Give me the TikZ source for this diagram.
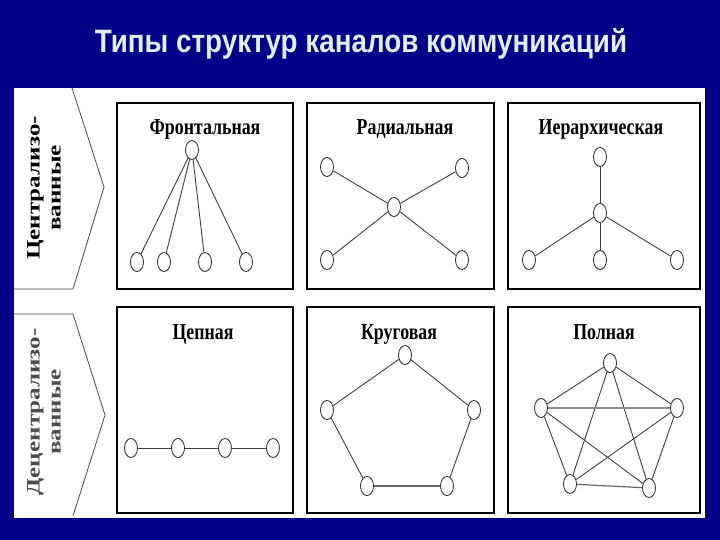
\documentclass[tikz,border=0pt]{standalone}
\usepackage{fontspec}
\setmainfont{Liberation Serif}
\newfontfamily\titlefont{Liberation Sans}
\usetikzlibrary{shapes.geometric}
\definecolor{bgblue}{HTML}{000088}
\definecolor{titlecol}{HTML}{E2EEFF}
\begin{document}
\begin{tikzpicture}[x=1pt,y=-1pt,
  nd/.style={draw=black!85, ellipse, minimum width=13pt, minimum height=19pt, inner sep=0pt, line width=0.8pt, fill=white},
  ed/.style={draw=black!75, line width=0.9pt},
  panel/.style={draw=black, line width=1.3pt},
  ptitle/.style={font=\bfseries\fontsize{17.5}{17.5}\selectfont, inner sep=0pt, anchor=base},
  vtext/.style={font=\bfseries\fontsize{19}{21}\selectfont, rotate=90, align=center, inner sep=0pt},
  chev/.style={draw=black!70, line width=0.8pt}
]
\useasboundingbox (0,0) rectangle (720,540);
\fill[bgblue] (0,0) rectangle (720,540);
\fill[white] (14,88) rectangle (705,518);
\node[font=\titlefont\bfseries\fontsize{27}{27}\selectfont, text=titlecol, inner sep=0pt] (title) at (361,44) {\scalebox{1.03}[1.2]{Типы структур каналов коммуникаций}};

% chevrons
\draw[chev] (72,88) -- (104,187) -- (73,289) -- (14,289);
\draw[chev] (14,314) -- (73,314) -- (105,415) -- (73,516);
\node[vtext] (cent) at (44,188) {\scalebox{1.32}[1]{Централизо-}\\\scalebox{1.32}[1]{ванные}};
\node[vtext, text=black!70] (decent) at (44,412) {\scalebox{1.32}[1]{Децентрализо-}\\\scalebox{1.32}[1]{ванные}};

% panels
\draw[panel] (117,103) rectangle (293,289);
\draw[panel] (307,103) rectangle (494,289);
\draw[panel] (508,103) rectangle (700,289);
\draw[panel] (117,307) rectangle (293,513);
\draw[panel] (307,307) rectangle (494,513);
\draw[panel] (508,307) rectangle (700,513);

% titles
\node[ptitle] (t1) at (205,135) {\scalebox{1.02}[1.3]{Фронтальная}};
\node[ptitle] (t2) at (405,135) {\scalebox{1.02}[1.3]{Радиальная}};
\node[ptitle] (t3) at (601,135) {\scalebox{1.02}[1.3]{Иерархическая}};
\node[ptitle] (t4) at (203,339) {\scalebox{1.02}[1.3]{Цепная}};
\node[ptitle] (t5) at (399,339) {\scalebox{1.02}[1.3]{Круговая}};
\node[ptitle] (t6) at (604,339) {\scalebox{1.02}[1.3]{Полная}};

% Frontal
\node[nd] (f0) at (192,150) {};
\node[nd] (f1) at (137,262) {};
\node[nd] (f2) at (164,262) {};
\node[nd] (f3) at (205,262) {};
\node[nd] (f4) at (246,262) {};
\foreach \i in {1,2,3,4} \draw[ed] (f0) -- (f\i);

% Radial
\node[nd] (r0) at (394,207) {};
\node[nd] (r1) at (327,167) {};
\node[nd] (r2) at (462,168) {};
\node[nd] (r3) at (327,260) {};
\node[nd] (r4) at (462,260) {};
\foreach \i in {1,2,3,4} \draw[ed] (r0) -- (r\i);

% Hierarchical
\node[nd] (h0) at (600,157) {};
\node[nd] (h1) at (600,213) {};
\node[nd] (h2) at (529,260) {};
\node[nd] (h3) at (600,260) {};
\node[nd] (h4) at (677,260) {};
\draw[ed] (h0) -- (h1);
\foreach \i in {2,3,4} \draw[ed] (h1) -- (h\i);

% Chain
\node[nd] (c1) at (131,448) {};
\node[nd] (c2) at (178,448) {};
\node[nd] (c3) at (225,448) {};
\node[nd] (c4) at (273,448) {};
\draw[ed] (c1) -- (c2);
\draw[ed] (c2) -- (c3);
\draw[ed] (c3) -- (c4);

% Circle
\node[nd] (k1) at (405,355) {};
\node[nd] (k2) at (474,410) {};
\node[nd] (k3) at (447,486) {};
\node[nd] (k4) at (367,486) {};
\node[nd] (k5) at (327,410) {};
\draw[ed] (k1) -- (k2);
\draw[ed] (k2) -- (k3);
\draw[ed, line width=1.2pt, draw=black!60] (k3) -- (k4);
\draw[ed] (k4) -- (k5);
\draw[ed] (k5) -- (k1);

% Full
\node[nd] (p1) at (610,363) {};
\node[nd] (p2) at (677,408) {};
\node[nd] (p3) at (649,488) {};
\node[nd] (p4) at (570,484) {};
\node[nd] (p5) at (541,408) {};
\draw[ed] (p1) -- (p2);
\draw[ed] (p2) -- (p3);
\draw[ed, line width=1.2pt, draw=black!60] (p3) -- (p4);
\draw[ed] (p4) -- (p5);
\draw[ed] (p5) -- (p1);
\draw[ed] (p1) -- (p3);
\draw[ed] (p1) -- (p4);
\draw[ed] (p2) -- (p4);
\draw[ed, line width=1.6pt, draw=black!45] (p2) -- (p5);
\draw[ed] (p3) -- (p5);
\end{tikzpicture}
\end{document}
